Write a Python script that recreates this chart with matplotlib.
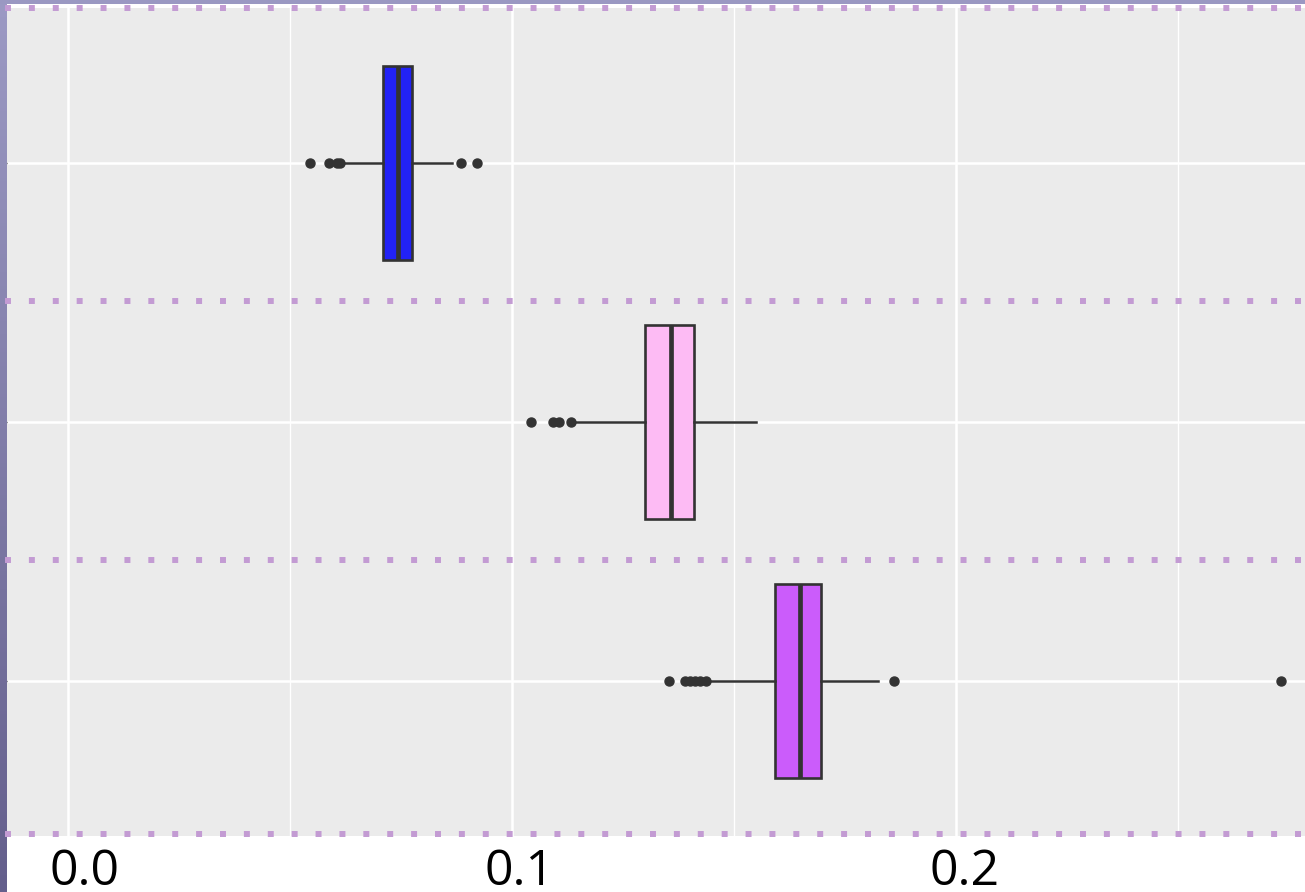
import matplotlib
matplotlib.use("Agg")
import matplotlib.pyplot as plt
import numpy as np
from matplotlib.lines import Line2D
from matplotlib.patches import Rectangle
from matplotlib.colors import LinearSegmentedColormap
import matplotlib.transforms as mtransforms

plt.rcParams['font.family'] = ['Open Sans', 'DejaVu Sans']

# ---- data ----
groups = ['group 1', 'group 2', 'group 3']
q1 = [0.0709, 0.1299, 0.1592]
medians = [0.0743, 0.1358, 0.1649]
q3 = [0.0774, 0.1410, 0.1695]
whisker_low = [0.0619, 0.1142, 0.1447]
whisker_high = [0.0864, 0.1549, 0.1825]
outliers = [
    [0.0544, 0.0586, 0.0606, 0.0612, 0.0884, 0.0920],
    [0.1042, 0.1092, 0.1106, 0.1132],
    [0.1353, 0.1390, 0.1401, 0.1412, 0.1423, 0.1437, 0.1861, 0.2733],
]
box_colors = ['#2222F6', '#FDBBF4', '#CB5CFB']
x_ticks = [0.0, 0.1, 0.2]
x_tick_labels = ['0.0', '0.1', '0.2']
x_minor = [0.05, 0.15, 0.25]

W, H = 1305, 892
fig = plt.figure(figsize=(W / 100, H / 100), dpi=100)
fig.patch.set_facecolor('white')

ax = fig.add_axes([7 / W, (H - 836) / H, (W - 7) / W, (836 - 8) / H])
ax.set_facecolor('#EBEBEB')

stats = []
for i in range(len(groups)):
    stats.append(dict(label=groups[i], q1=q1[i], med=medians[i], q3=q3[i],
                      whislo=whisker_low[i], whishi=whisker_high[i],
                      fliers=outliers[i]))

bp = ax.bxp(stats, positions=[1, 2, 3], widths=0.75, orientation='horizontal',
            patch_artist=True, showcaps=False,
            boxprops=dict(edgecolor='#333333', linewidth=1.9),
            medianprops=dict(color='#333333', linewidth=3.4, solid_capstyle='butt'),
            whiskerprops=dict(color='#333333', linewidth=1.8),
            flierprops=dict(marker='o', markerfacecolor='#333333',
                            markeredgecolor='#333333', markersize=6.5))
for patch, c in zip(bp['boxes'], box_colors):
    patch.set_facecolor(c)

ax.set_xlim(-0.01386, 0.27868)
ax.set_ylim(3.6, 0.4)
ax.set_xticks(x_ticks)
ax.set_xticklabels(x_tick_labels)
ax.set_xticks(x_minor, minor=True)
ax.set_yticks([1, 2, 3])
ax.set_yticklabels([])
ax.set_axisbelow(True)
ax.grid(which='major', color='white', linewidth=1.8)
ax.grid(which='minor', axis='x', color='white', linewidth=1.0)
for s in ax.spines.values():
    s.set_visible(False)
ax.tick_params(axis='x', which='both', length=0, labelsize=36, pad=8,
               labelcolor='black')
ax.tick_params(axis='y', length=2.5, color='#333333', width=1, labelleft=False)

offsets_px = [16, 7, 9]
for lab, off in zip(ax.get_xticklabels(), offsets_px):
    lab.set_transform(lab.get_transform() +
                      mtransforms.ScaledTranslation(off / 100, 0, fig.dpi_scale_trans))

# ---- slide decorations ----
cmap = LinearSegmentedColormap.from_list('strip', ['#9C9AC4', '#645F8C'])
ax_strip = fig.add_axes([0, 0, 7 / W, 1])
ax_strip.imshow(np.linspace(0, 1, 256).reshape(-1, 1), aspect='auto', cmap=cmap)
ax_strip.set_axis_off()

fig.add_artist(Rectangle((0, (H - 4) / H), 1, 4 / H, transform=fig.transFigure,
                         facecolor='#9A98C2', edgecolor='none', zorder=5))

for ypx in [8, 301, 560, 834]:
    fig.add_artist(Line2D([5 / W, 1], [(H - ypx) / H] * 2, transform=fig.transFigure,
                          color='#C39BD3', linewidth=4.3,
                          linestyle=(0, (1, 3)), zorder=6))

fig.savefig('out.png', dpi=100)
